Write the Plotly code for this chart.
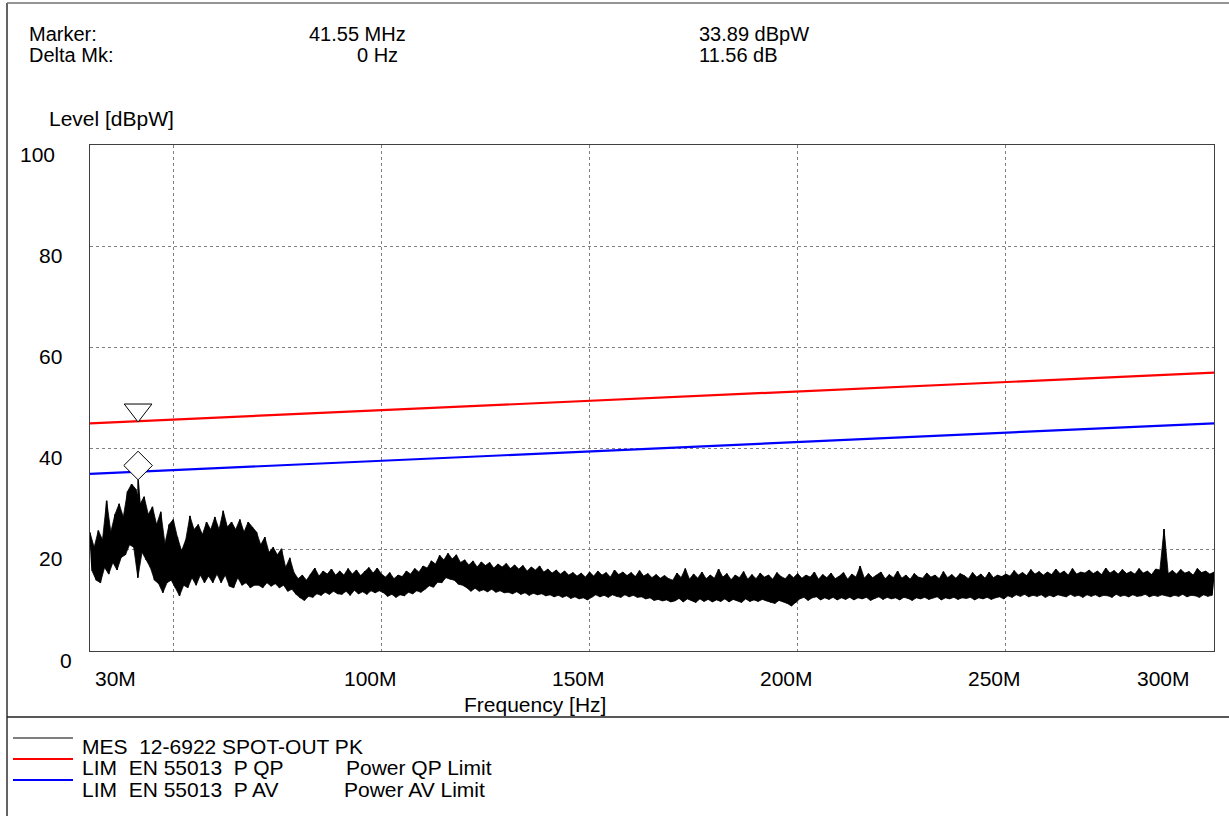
import plotly.graph_objects as go

# ---------------- data ----------------
freq_mhz = list(range(30, 301))  # 1 MHz grid of the read-off envelope

level_hi = [
    23.4, 20.5, 23.8, 22.0, 29.7, 23.5, 27.0, 29.1, 26.5, 31.5,
    33.0, 32.0, 29.0, 30.5, 27.0, 28.5, 25.0, 27.5, 21.2, 25.0,
    26.0, 22.5, 19.8, 22.0, 26.7, 24.0, 25.0, 23.0, 25.5, 24.0,
    26.5, 24.0, 27.7, 24.5, 25.5, 24.0, 26.0, 23.5, 25.5, 24.5,
    23.5, 21.0, 22.5, 19.5, 20.5, 19.0, 20.2, 16.5, 18.4, 15.5,
    14.3, 15.0, 14.0, 15.2, 16.4, 14.8, 15.8, 15.2, 16.2, 15.0,
    15.8, 15.0, 16.3, 15.2, 16.0, 14.9, 15.8, 16.5, 15.4, 16.4,
    15.2, 14.6, 15.5, 14.3, 15.0, 14.7, 15.8, 15.2, 16.3, 15.6,
    16.8, 16.4, 17.8, 17.2, 18.9, 18.0, 19.3, 18.2, 19.0, 17.5,
    18.0, 17.0, 17.8, 16.6, 17.6, 16.9, 17.5, 16.4, 17.2, 16.6,
    17.3, 16.3, 17.0, 16.2, 16.9, 15.8, 16.6, 16.0, 16.8, 15.6,
    16.2, 15.4, 16.0, 15.2, 15.8, 15.0, 15.5, 14.8, 15.4, 14.6,
    15.6, 14.8, 15.8, 15.0, 15.5, 14.6, 16.0, 15.1, 15.6, 14.9,
    15.5, 14.7, 15.9, 14.8, 15.3, 14.5, 15.1, 14.4, 14.9, 14.3,
    14.0, 15.4, 14.5, 16.3, 14.2, 15.2, 14.4, 15.6, 14.3, 15.0,
    14.4, 16.2, 14.6, 15.3, 14.1, 15.0, 14.5, 15.7, 14.2, 15.1,
    14.3, 15.4, 14.6, 15.0, 14.2, 15.5, 14.7, 14.3, 15.2, 14.5,
    15.3, 14.4, 15.0, 14.6, 15.6, 14.2, 15.1, 14.5, 15.4, 14.3,
    14.8, 15.5, 14.2, 15.2, 14.6, 16.8, 14.4, 15.3, 14.5, 15.0,
    15.6, 14.3, 15.1, 14.5, 15.8, 14.4, 15.0, 14.2, 15.3, 14.6,
    14.4, 15.4, 14.6, 15.0, 14.3, 15.7, 14.5, 15.1, 14.4, 15.3,
    14.9, 14.3, 15.5, 14.6, 15.2, 14.4, 15.6, 14.5, 15.0, 14.7,
    15.2, 14.8, 15.9, 15.0, 15.5, 14.9, 16.1, 15.2, 15.7, 15.0,
    15.6, 15.1, 16.2, 15.3, 15.8, 15.0, 16.3, 15.2, 15.6, 15.4,
    16.0, 15.3, 15.8, 15.1, 16.4, 15.4, 15.9, 15.2, 16.1, 15.3,
    15.7, 15.2, 16.3, 15.4, 15.8, 15.1, 16.2, 16.0, 24.1, 15.3,
    15.9, 15.2, 16.1, 15.4, 15.7, 15.0, 16.3, 15.5, 15.8, 15.2,
    15.6,
]

level_lo = [
    15.8, 14.0, 13.5, 16.5, 15.2, 17.5, 16.0, 18.5, 19.0, 21.0,
    20.5, 14.5, 19.5, 18.0, 16.5, 14.0, 13.3, 11.5, 13.5, 14.0,
    12.5, 10.9, 13.0, 12.5, 14.5, 13.0, 15.0, 13.5, 14.8, 13.5,
    15.2, 13.5, 15.0, 12.8, 12.5, 14.5, 13.0, 13.5, 12.5, 13.0,
    13.0, 12.5, 13.5, 12.8, 13.3, 12.5, 13.0, 11.8, 12.2, 11.2,
    10.5, 10.0, 10.8, 10.6, 11.3, 11.0, 11.6, 11.2, 11.8, 11.3,
    11.2, 11.8, 11.0, 12.0, 11.3, 11.7, 11.2, 11.9, 11.5, 11.9,
    11.5, 10.8, 11.2, 10.6, 11.1, 10.9, 11.6, 11.3, 11.9, 11.6,
    12.2, 12.9, 12.6, 13.6, 13.5, 14.5, 14.2, 14.0, 13.2, 13.0,
    12.5, 11.8, 12.4, 11.8, 12.1, 11.7, 12.2, 11.6, 11.9, 11.5,
    11.6, 11.3, 11.7, 11.2, 11.5, 11.0, 11.4, 11.1, 11.3, 10.9,
    11.1, 10.7, 11.0, 10.6, 10.9, 10.4, 10.7, 10.3, 10.5, 10.1,
    10.6, 11.1, 10.7, 11.0, 10.6, 11.1, 10.8, 10.6, 11.1, 10.7,
    11.0, 10.6, 10.7, 10.3, 10.5, 10.0, 10.2, 9.9, 10.1, 9.7,
    9.9, 10.4, 9.7, 10.3, 10.0, 9.6, 10.3, 9.8, 10.2, 9.7,
    10.1, 9.8, 10.3, 9.7, 10.2, 9.9, 9.6, 10.3, 9.8, 10.1,
    9.8, 10.2, 9.9, 9.6, 9.4, 10.0, 9.7, 9.4, 8.9, 9.5,
    10.3, 10.6, 10.0, 10.5, 10.7, 10.1, 10.5, 10.2, 10.6, 10.1,
    10.5, 10.2, 10.6, 10.1, 10.5, 10.3, 10.6, 10.0, 10.4, 10.7,
    10.2, 10.6, 10.3, 10.5, 10.1, 10.6, 10.4, 10.0, 10.5, 10.3,
    10.6, 10.2, 10.5, 10.7, 10.1, 10.5, 10.3, 10.6, 10.2, 10.5,
    10.4, 10.6, 10.1, 10.5, 10.3, 10.6, 10.2, 10.5, 10.7, 10.3,
    10.9, 10.6, 11.1, 10.8, 11.2, 10.7, 11.0, 10.8, 11.1, 10.6,
    11.0, 10.7, 11.1, 10.9, 10.7, 11.2, 10.8, 11.0, 10.6, 11.1,
    10.8, 11.1, 10.7, 11.0, 10.9, 10.6, 11.2, 10.8, 11.0, 10.7,
    11.1, 10.8, 10.9, 11.2, 10.7, 11.0, 10.8, 11.1, 10.9, 10.7,
    11.0, 10.8, 11.2, 10.7, 11.0, 10.9, 10.6, 11.1, 10.8, 11.0,
    11.0,
]

limit_freq = [30, 300]
qp_limit = [45.0, 55.0]
av_limit = [35.0, 45.0]

marker_freq = 41.55
marker_level = 33.89
marker_delta = 11.56

y_ticks = [0, 20, 40, 60, 80, 100]
x_tick_vals = [30, 100, 150, 200, 250, 300]
x_tick_text = ["30M", "100M", "150M", "200M", "250M", "300M"]
x_grid_vals = [50, 100, 150, 200, 250]

# ---------------- geometry helpers ----------------
W, H = 1229, 816
L, R, T, B = 90, 15, 145, 165
PW, PH = W - L - R, H - T - B


def px_x(px):
    return (px - L) / PW


def px_y(py):
    return (H - B - py) / PH


# ---------------- measured trace ----------------
tx, ty = [], []
for f, hi, lo in zip(freq_mhz, level_hi, level_lo):
    tx.append(f)
    ty.append(hi)
    if f + 0.5 <= freq_mhz[-1]:
        tx.append(f + 0.5)
        ty.append(lo)
idx = next(i for i, v in enumerate(tx) if v > marker_freq)
tx.insert(idx, marker_freq)
ty.insert(idx, marker_level)

# envelope band (upper polyline at f, lower polyline at f + 0.5)
band_x = list(freq_mhz) + [f + 0.5 for f in freq_mhz[:-1]][::-1]
band_y = list(level_hi) + list(level_lo[:-1])[::-1]

FONT = "Liberation Sans, Arial, sans-serif"
fig = go.Figure()

fig.add_trace(go.Scatter(x=band_x, y=band_y, mode="lines", fill="toself",
                         fillcolor="black", line=dict(color="black", width=0.8),
                         showlegend=False, hoverinfo="skip"))
fig.add_trace(go.Scatter(x=tx, y=ty, mode="lines",
                         line=dict(color="black", width=1.5, simplify=False),
                         showlegend=False, hoverinfo="skip"))
fig.add_trace(go.Scatter(x=limit_freq, y=qp_limit, mode="lines",
                         line=dict(color="#ff0000", width=2.2), showlegend=False))
fig.add_trace(go.Scatter(x=limit_freq, y=av_limit, mode="lines",
                         line=dict(color="#0000ff", width=2.2), showlegend=False))

units_per_px = 100 / PH
qp_at_marker = marker_level + marker_delta
fig.add_trace(go.Scatter(x=[marker_freq], y=[qp_at_marker + 11 * units_per_px],
                         mode="markers",
                         marker=dict(symbol="triangle-down", size=24, color="white",
                                     line=dict(color="black", width=1)),
                         showlegend=False))
fig.add_trace(go.Scatter(x=[marker_freq], y=[marker_level + 14 * units_per_px],
                         mode="markers",
                         marker=dict(symbol="diamond", size=22, color="white",
                                     line=dict(color="black", width=1)),
                         showlegend=False))

fig.update_xaxes(range=[30, 300], showgrid=True, gridcolor="#808080", griddash="dot",
                 gridwidth=1, tickvals=x_grid_vals, showticklabels=False,
                 showline=True, linecolor="#404040", linewidth=1, mirror=True,
                 zeroline=False, ticks="")
fig.update_yaxes(range=[0, 100], showgrid=True, gridcolor="#808080", griddash="dot",
                 gridwidth=1, tickvals=y_ticks, showticklabels=False,
                 showline=True, linecolor="#404040", linewidth=1, mirror=True,
                 zeroline=False, ticks="")

ann = []
fs = 21       # axis / legend text
fh = 20       # header text
yright = {100: 57, 0: 74}
for v in y_ticks:
    ann.append(dict(x=px_x(yright.get(v, 64)), xref="paper", y=v, yref="y",
                    text=str(v), showarrow=False, xanchor="right", yanchor="middle",
                    yshift=-9, font=dict(size=fs, color="black", family=FONT)))
for v, t in zip(x_tick_vals, x_tick_text):
    if v == 30:
        kw = dict(x=v, xanchor="left", xshift=3)
    elif v == 300:
        kw = dict(x=v, xanchor="right", xshift=-22)
    else:
        kw = dict(x=v, xanchor="center", xshift=-11)
    ann.append(dict(xref="x", y=px_y(678), yref="paper", text=t, showarrow=False,
                    yanchor="middle", font=dict(size=fs, color="black", family=FONT), **kw))


def text_at(px, py, t, anchor="left", size=fs):
    ann.append(dict(x=px_x(px), xref="paper", y=px_y(py), yref="paper", text=t,
                    showarrow=False, xanchor=anchor, yanchor="middle",
                    font=dict(size=size, color="black", family=FONT)))


text_at(535, 704, "Frequency [Hz]", "center")
text_at(47, 118, "Level [dBpW]")
text_at(27, 34, "Marker:", size=fh)
text_at(27, 55, "Delta Mk:", size=fh)
text_at(307, 34, f"{marker_freq:.2f} MHz", size=fh)
text_at(400, 55, "0 Hz", "right", size=fh)
text_at(697, 34, f"{marker_level:.2f} dBpW", size=fh)
text_at(697, 55, f"{marker_delta:.2f} dB", size=fh)
text_at(80, 746, "MES  12-6922 SPOT-OUT PK")
text_at(80, 767, "LIM  EN 55013  P QP")
text_at(80, 789, "LIM  EN 55013  P AV")
text_at(344, 767, "Power QP Limit")
text_at(342, 789, "Power AV Limit")

shapes = []


def pline(x0, y0, x1, y1, color, width):
    shapes.append(dict(type="line", xref="paper", yref="paper",
                       x0=px_x(x0), y0=px_y(y0), x1=px_x(x1), y1=px_y(y1),
                       line=dict(color=color, width=width)))


pline(7, 3, 7, 816, "#303030", 1.5)
pline(7, 3, 1229, 3, "#707070", 1.5)
pline(7, 717, 1229, 717, "#202020", 1.5)
pline(13, 738, 73, 738, "black", 1.2)
pline(13, 759, 73, 759, "#ff0000", 2)
pline(13, 780, 73, 780, "#0000ff", 2)

fig.update_layout(width=W, height=H, margin=dict(l=L, r=R, t=T, b=B),
                  paper_bgcolor="white", plot_bgcolor="white",
                  annotations=ann, shapes=shapes, showlegend=False)

fig.write_html("out.html")
